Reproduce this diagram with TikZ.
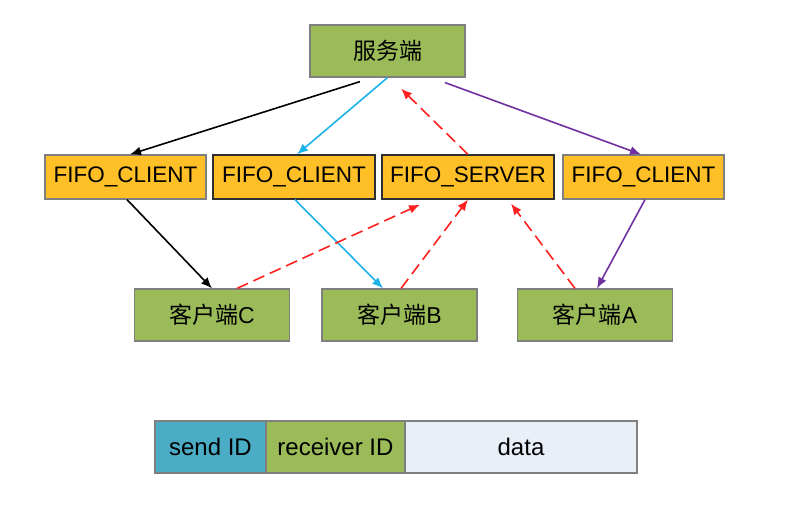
\documentclass[tikz,border=0pt]{standalone}
\usepackage{fontspec}
\setmainfont{Liberation Sans}
\newfontfamily\cjk{Noto Sans CJK SC}
\usetikzlibrary{arrows.meta}
\definecolor{boxgreen}{HTML}{9BBB59}
\definecolor{boxorange}{HTML}{FFBF27}
\definecolor{boxgray}{HTML}{7F7F7F}
\definecolor{boxdark}{HTML}{2F2F2F}
\definecolor{lcyan}{HTML}{1CB2EA}
\definecolor{lpurple}{HTML}{7030A0}
\definecolor{lred}{HTML}{FF2020}
\definecolor{sendblue}{HTML}{4BACC6}
\definecolor{datapale}{HTML}{E9EFF7}
\tikzset{
  greenbox/.style={draw=boxgray, line width=1.2pt, fill=boxgreen, minimum width=155pt, minimum height=52pt, inner sep=0pt, font=\fontsize{23}{26}\selectfont},
  fifobox/.style={draw=boxgray, line width=1.2pt, fill=boxorange, minimum height=44pt, inner sep=0pt, font=\fontsize{22.5}{25}\selectfont},
  fieldbox/.style={draw=boxgray, line width=1.2pt, minimum height=52pt, inner sep=0pt, font=\fontsize{24}{27}\selectfont},
  conn/.style={line width=1.6pt, -{Latex[length=11pt,width=9pt]}},
  reddash/.style={conn, draw=lred, dash pattern=on 12pt off 6pt},
}
\begin{document}
\begin{tikzpicture}[x=1pt,y=-1pt]
\useasboundingbox (0,0) rectangle (789,507);
% top server
\node[greenbox] (srv) at (387.5,51) {\cjk 服务端};
% FIFO row
\node[fifobox, minimum width=161pt] (f1) at (125.5,177) {FIFO\_CLIENT};
\node[fifobox, draw=boxdark, minimum width=162pt] (f2) at (294,177) {FIFO\_CLIENT};
\node[fifobox, draw=boxdark, minimum width=172pt] (fs) at (468,177) {FIFO\_SERVER};
\node[fifobox, minimum width=161pt] (f4) at (643.5,177) {FIFO\_CLIENT};
% clients
\node[greenbox] (cc) at (212,315) {{\cjk 客户端}C};
\node[greenbox] (cb) at (399.5,315) {{\cjk 客户端}B};
\node[greenbox] (ca) at (595,315) {{\cjk 客户端}A};
% message format bar
\node[fieldbox, fill=sendblue, minimum width=111pt] (sid) at (210.5,447) {send ID};
\node[fieldbox, fill=boxgreen, minimum width=139pt] (rid) at (335.5,447) {receiver ID};
\node[fieldbox, fill=datapale, minimum width=232pt] (dat) at (521,447) {data};
% server -> fifo clients
\draw[conn, draw=black] ([xshift=-27.5pt,yshift=-4pt]srv.south) -- ([xshift=4.5pt]f1.north);
\draw[conn, draw=lcyan] (srv.south) -- ([xshift=3pt]f2.north);
\draw[conn, draw=lpurple] ([xshift=57.5pt,yshift=-5pt]srv.south) -- ([xshift=-2.5pt]f4.north);
\draw[reddash] (fs.north) -- ([xshift=13.5pt,yshift=-11pt]srv.south);
% fifo clients -> clients
\draw[conn, draw=black] ([xshift=1.5pt]f1.south) -- (cc.north);
\draw[conn, draw=lcyan] ([xshift=1pt]f2.south) -- ([xshift=-16.5pt]cb.north);
\draw[conn, draw=lpurple] ([xshift=1.5pt]f4.south) -- ([xshift=2pt]ca.north);
% clients -> fifo server
\draw[reddash] ([xshift=25pt]cc.north) -- ([xshift=-48pt,yshift=-5pt]fs.south);
\draw[reddash] ([xshift=1.5pt]cb.north) -- (fs.south);
\draw[reddash] ([xshift=-20pt]ca.north) -- ([xshift=43pt,yshift=-4pt]fs.south);
\end{tikzpicture}
\end{document}
